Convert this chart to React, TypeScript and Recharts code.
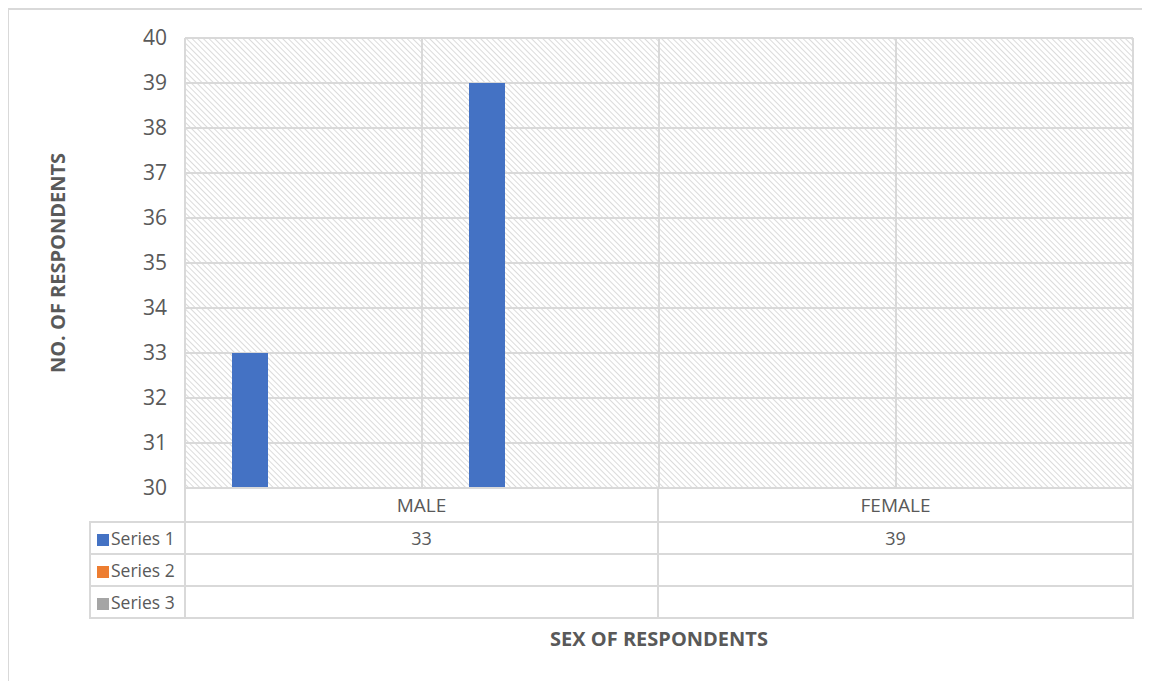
import { Bar, BarChart, CartesianGrid, XAxis, YAxis } from "recharts";

const categories = ["MALE", "FEMALE"];
const seriesNames = ["Series 1", "Series 2", "Series 3"];
const series1: (number | null)[] = [33, 39];
const series2: (number | null)[] = [null, null];
const series3: (number | null)[] = [null, null];
const yTicks = [30, 31, 32, 33, 34, 35, 36, 37, 38, 39, 40];
const seriesColors = ["#4472c4", "#ed7d31", "#a5a5a5"];
// the plot is split in four gridline columns, the bars sit in the first two
const plotSlots = ["a", "b", "c", "d"];

const TEXT = "#595959";
const LINE = "#d9d9d9";
const FONT = "'Open Sans', sans-serif";

const seriesValues = [series1, series2, series3];

const data = plotSlots.map((slot, i) => ({
  slot,
  s1: series1[i] ?? null,
  s2: series2[i] ?? null,
  s3: series3[i] ?? null,
}));

const cell = (extra?: React.CSSProperties): React.CSSProperties => ({
  border: `2px solid ${LINE}`,
  padding: 0,
  textAlign: "center",
  color: TEXT,
  fontSize: 18,
  lineHeight: "20px",
  ...extra,
});

function DataTable() {
  return (
    <table
      style={{
        position: "absolute",
        left: 81,
        top: 479,
        width: 1043,
        borderCollapse: "collapse",
        tableLayout: "fixed",
        fontFamily: FONT,
      }}
    >
      <colgroup>
        <col style={{ width: 95 }} />
        <col style={{ width: 473 }} />
        <col style={{ width: 475 }} />
      </colgroup>
      <tbody>
        <tr style={{ height: 34 }}>
          <td style={cell({ borderTop: "none", borderLeft: "none" })} />
          {categories.map((c) => (
            <td key={c} style={cell({ fontSize: 19 })}>
              {c}
            </td>
          ))}
        </tr>
        {seriesNames.map((name, si) => (
          <tr key={name} style={{ height: 32 }}>
            <td style={cell({ textAlign: "left", paddingLeft: 6, whiteSpace: "nowrap", fontSize: 17.5 })}>
              <span
                style={{
                  display: "inline-block",
                  width: 12,
                  height: 12,
                  background: seriesColors[si],
                  marginRight: 2,
                  verticalAlign: "-1px",
                }}
              />
              {name}
            </td>
            {categories.map((c, ci) => (
              <td key={c} style={cell()}>
                {seriesValues[si][ci] ?? ""}
              </td>
            ))}
          </tr>
        ))}
      </tbody>
    </table>
  );
}

export default function App() {
  return (
    <div style={{ position: "relative", width: 1142, height: 673, fontFamily: FONT }}>
      <div
        style={{
          position: "absolute",
          left: -1,
          top: 0,
          width: 1143,
          height: 673,
          borderTop: `2px solid ${LINE}`,
          borderLeft: `2px solid ${LINE}`,
          boxSizing: "border-box",
        }}
      />
      <BarChart
        width={1142}
        height={673}
        data={data}
        margin={{ top: 30, right: 17, bottom: 193, left: 117 }}
        barSize={36}
        barGap={18}
        style={{ position: "absolute", left: 0, top: 0 }}
      >
        <defs>
          <pattern
            id="hatch"
            width="4"
            height="4"
            patternUnits="userSpaceOnUse"
            patternTransform="rotate(-45)"
          >
            <rect width="4" height="4" fill="#ffffff" />
            <line x1="0" y1="0" x2="0" y2="4" stroke="#d2d2d2" strokeWidth="1.6" />
          </pattern>
        </defs>
        <CartesianGrid
          fill="url(#hatch)"
          stroke={LINE}
          strokeWidth={2}
          verticalCoordinatesGenerator={({ offset }: any) =>
            [0, 1, 2, 3, 4].map((i) => offset.left + (i * offset.width) / 4)
          }
        />
        <XAxis dataKey="slot" type="category" hide />
        <YAxis
          domain={[30, 40]}
          ticks={yTicks}
          interval={0}
          width={60}
          axisLine={false}
          tickLine={false}
          tickSize={0}
          tickMargin={18}
          tick={{ fill: TEXT, fontSize: 21, fontFamily: FONT }}
        />
        <Bar dataKey="s1" name={seriesNames[0]} fill={seriesColors[0]} isAnimationActive={false} />
        <Bar dataKey="s2" name={seriesNames[1]} fill={seriesColors[1]} isAnimationActive={false} />
        <Bar dataKey="s3" name={seriesNames[2]} fill={seriesColors[2]} isAnimationActive={false} />
      </BarChart>
      <DataTable />
      <div
        style={{
          position: "absolute",
          left: 49,
          top: 255,
          transform: "translate(-50%, -50%) rotate(-90deg)",
          whiteSpace: "nowrap",
          fontWeight: 700,
          fontSize: 20,
          color: TEXT,
        }}
      >
        NO. OF RESPONDENTS
      </div>
      <div
        style={{
          position: "absolute",
          left: 651,
          top: 630,
          transform: "translate(-50%, -50%)",
          whiteSpace: "nowrap",
          fontWeight: 700,
          fontSize: 20,
          color: TEXT,
        }}
      >
        SEX OF RESPONDENTS
      </div>
    </div>
  );
}
